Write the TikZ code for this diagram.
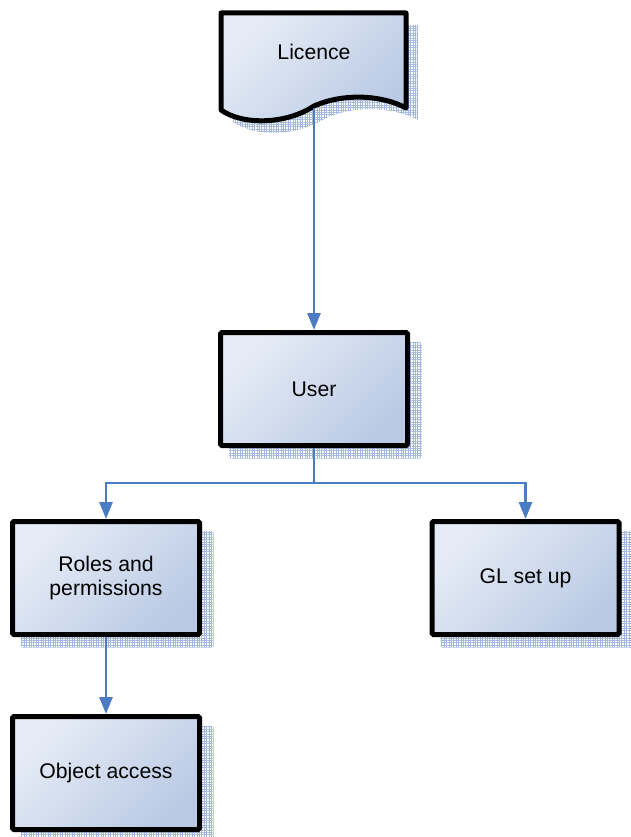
\documentclass[tikz,border=0pt]{standalone}
\usepackage{fontspec}
\setmainfont{Liberation Sans}
\usetikzlibrary{arrows.meta,patterns.meta,shadows,calc}
\definecolor{boxlight}{HTML}{E6ECF6}
\definecolor{boxmid}{HTML}{C6D3E9}
\definecolor{boxdark}{HTML}{BACAE4}
\definecolor{shadowblue}{HTML}{A3B7DE}
\definecolor{connblue}{HTML}{4A7CC3}
\tikzset{
 shadowfill/.style={pattern={Hatch[angle=0,distance=2.4pt,line width=0.55pt]},pattern color=shadowblue},
 boxshade/.style={top color=boxlight,middle color=boxmid,bottom color=boxdark,shading angle=45},
 procbox/.style={draw=black,line width=5pt,rounded corners=1.5pt,boxshade,
   minimum width=187pt,minimum height=113pt,inner sep=0pt,align=center,
   font=\fontsize{21.2}{24}\selectfont,
   general shadow={shadowfill,shadow xshift=11pt,shadow yshift=-11pt,shadow scale=1.03}},
 conn/.style={draw=connblue,line width=2.8pt,-{Triangle[width=13pt,length=17pt]}},
 labeltext/.style={font=\fontsize{21.2}{24}\selectfont,inner sep=0pt},
}
\begin{document}
\begin{tikzpicture}[x=1pt,y=-1pt]
\useasboundingbox (0,0) rectangle (631,837);
% Licence document shape
\fill[shadowfill,shift={(12,12)}] (221,13) -- (406,13) -- (406,108)
  .. controls (384,96) and (346,92) .. (314,106)
  .. controls (285,125) and (242,125) .. (221,110) -- cycle;
\path[draw=black,line width=5pt,line join=round,boxshade] (221,13) -- (406,13) -- (406,108)
  .. controls (384,96) and (346,92) .. (314,106)
  .. controls (285,125) and (242,125) .. (221,110) -- cycle;
\node[labeltext] (licence) at (314,52) {Licence};
\coordinate (licbot) at (314,108);
% boxes
\node[procbox] (user) at (314,389) {User};
\node[procbox] (roles) at (106,578) {Roles and\\permissions};
\node[procbox] (gl) at (525.5,578) {GL set up};
\node[procbox] (obj) at (106,773) {Object access};
\coordinate (split) at (314,483);
% connectors
\draw[conn] (licbot) -- (user.north);
\draw[conn] (user.south) -- (split) -| (roles.north);
\draw[conn] (split) -| (gl.north);
\draw[conn] (roles.south) -- (obj.north);
\end{tikzpicture}
\end{document}
